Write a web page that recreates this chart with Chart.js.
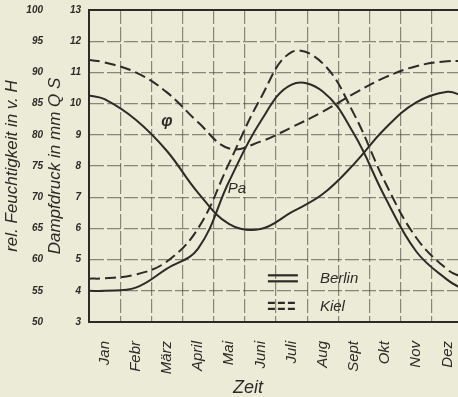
<!DOCTYPE html>
<html><head><meta charset="utf-8">
<script src="https://cdn.jsdelivr.net/npm/chart.js@4"></script>
<style>
html,body{margin:0;padding:0;background:#ecebd8;overflow:hidden;width:458px;height:397px}
#wrap{width:466px;height:397px}
</style></head><body>
<div id="wrap"><canvas id="c" width="466" height="397"></canvas></div>
<script>
const months = ['Jan','Febr','März','April','Mai','Juni','Juli','Aug','Sept','Okt','Nov','Dez'];
// x position in months: start edge, month centres, end edge
const monthPos = [0, 0.5, 1.5, 2.5, 3.5, 4.5, 5.5, 6.5, 7.5, 8.5, 9.5, 10.5, 11.5, 12];
// relative humidity (v. H.)
const berlinHumidity = [86.3, 85.7, 82.4, 77.4, 70.7, 65.7, 64.9, 67.6, 70.5, 75.3, 81.0, 85.2, 86.9, 86.2];
const kielHumidity   = [92.0, 91.6, 90.0, 86.8, 82.0, 77.8, 78.9, 81.2, 83.7, 86.6, 89.2, 91.0, 91.8, 91.8];
// vapour pressure (mm QS)
const berlinVapour = [4.0, 4.0, 4.1, 4.71, 5.35, 7.52, 9.42, 10.61, 10.39, 9.03, 7.0, 5.26, 4.35, 4.05];
const kielVapour   = [4.39, 4.4, 4.52, 4.94, 6.0, 8.1, 10.16, 11.65, 11.29, 9.67, 7.48, 5.7, 4.68, 4.42];
const humidityTicks = [50, 55, 60, 65, 70, 75, 80, 85, 90, 95, 100];
const vapourTicks = [3, 4, 5, 6, 7, 8, 9, 10, 11, 12, 13];
const monthGrid = [0, 1, 2, 3, 4, 5, 6, 7, 8, 9, 10, 11, 12];
const monthCentres = [0.5, 1.5, 2.5, 3.5, 4.5, 5.5, 6.5, 7.5, 8.5, 9.5, 10.5, 11.5];

const ink = '#2b2b27';
const gridInk = 'rgba(60,60,52,0.58)';
const FONT = '"Liberation Sans", Arial, sans-serif';

function pts(vals){ return vals.map((v,i)=>({x: monthPos[i], y: v})); }

const decor = {
  id: 'decor',
  afterDatasetsDraw(chart){
    const {ctx, chartArea: a, scales: {x, y}} = chart;
    ctx.save();
    ctx.strokeStyle = ink; ctx.lineWidth = 2;
    ctx.strokeRect(a.left, a.top, a.right - a.left, a.bottom - a.top);
    ctx.fillStyle = ink;
    ctx.textBaseline = 'middle';
    ctx.textAlign = 'center';
    ctx.font = 'italic bold 16px ' + FONT;
    ctx.fillText('φ', x.getPixelForValue(2.5), y.getPixelForValue(9.41));
    ctx.font = 'italic 15px ' + FONT;
    ctx.fillText('Pa', x.getPixelForValue(4.75), y.getPixelForValue(7.26));
    // legend
    const lx0 = x.getPixelForValue(5.74), lx1 = lx0 + 30, tx = lx0 + 52;
    const rows = [{label:'Berlin', v:4.4, dash:[]}, {label:'Kiel', v:3.52, dash:[7,3]}];
    ctx.textAlign = 'left';
    ctx.font = 'italic 15px ' + FONT;
    rows.forEach(r=>{
      const cy = y.getPixelForValue(r.v);
      ctx.setLineDash(r.dash); ctx.lineWidth = 2.2;
      [-3, 3].forEach(o=>{ ctx.beginPath(); ctx.moveTo(lx0, cy+o); ctx.lineTo(lx1, cy+o); ctx.stroke(); });
      ctx.setLineDash([]);
      ctx.fillText(r.label, tx, cy + 1);
    });
    // x axis title
    ctx.textAlign = 'center';
    ctx.font = 'italic 18px ' + FONT;
    ctx.fillText('Zeit', x.getPixelForValue(5.1), chart.height - 9);
    ctx.restore();
  }
};

const lineBase = {borderColor: ink, borderWidth: 2, pointRadius: 0, tension: 0.4, fill: false};

new Chart(document.getElementById('c'), {
  type: 'line',
  data: {
    datasets: [
      Object.assign({label: 'Berlin φ', data: pts(berlinHumidity), yAxisID: 'y1'}, lineBase),
      Object.assign({label: 'Kiel φ', data: pts(kielHumidity), yAxisID: 'y1', borderDash: [11, 5]}, lineBase),
      Object.assign({label: 'Berlin Pa', data: pts(berlinVapour), yAxisID: 'y'}, lineBase),
      Object.assign({label: 'Kiel Pa', data: pts(kielVapour), yAxisID: 'y', borderDash: [11, 5]}, lineBase)
    ]
  },
  options: {
    responsive: false,
    animation: false,
    devicePixelRatio: 1,
    layout: {padding: {top: 10, right: 3, left: 0, bottom: 0}},
    plugins: {legend: {display: false}, tooltip: {enabled: false}},
    scales: {
      x: {
        type: 'linear', min: 0, max: 12,
        afterBuildTicks(s){ s.ticks = monthGrid.concat(monthCentres).sort((a,b)=>a-b).map(v=>({value: v})); },
        afterFit(s){ s.height = 75; s.paddingLeft = 0; s.paddingRight = 0; },
        grid: {
          color: c => (c.tick && Number.isInteger(c.tick.value)) ? gridInk : 'rgba(0,0,0,0)',
          lineWidth: 1.2, drawTicks: false
        },
        border: {display: true, color: ink, width: 2, dash: [14, 3]},
        ticks: {
          autoSkip: false, minRotation: 90, maxRotation: 90, padding: 19,
          color: ink, font: {family: FONT, size: 15, style: 'italic'},
          callback: v => Number.isInteger(v) ? '' : months[Math.floor(v)]
        }
      },
      y: {
        type: 'linear', position: 'left', min: 3, max: 13, weight: 1,
        afterBuildTicks(s){ s.ticks = vapourTicks.map(v=>({value: v})); },
        afterFit(s){ s.width = 44; s.paddingTop = 0; s.paddingBottom = 0; },
        grid: {color: gridInk, lineWidth: 1.2, drawTicks: false},
        border: {display: true, color: ink, width: 2, dash: [14, 3]},
        ticks: {padding: 8, color: ink, font: {family: FONT, size: 10, style: 'italic', weight: 'bold'}},
        title: {display: true, text: 'Dampfdruck in mm Q S', color: ink,
          font: {family: FONT, size: 17, style: 'italic', lineHeight: 1.2}, padding: {top: 0, bottom: 2}}
      },
      y1: {
        type: 'linear', position: 'left', min: 50, max: 100, weight: 2,
        afterBuildTicks(s){ s.ticks = humidityTicks.map(v=>({value: v})); },
        afterFit(s){ s.width = 45; s.paddingTop = 0; s.paddingBottom = 0; },
        grid: {display: false, drawTicks: false},
        border: {display: false},
        ticks: {padding: 2, color: ink, font: {family: FONT, size: 10, style: 'italic', weight: 'bold'}},
        title: {display: true, text: 'rel. Feuchtigkeit in v. H', color: ink,
          font: {family: FONT, size: 17, style: 'italic', lineHeight: 1.2}, padding: {top: 2, bottom: 2}}
      }
    }
  },
  plugins: [decor]
});
</script>
</body></html>
